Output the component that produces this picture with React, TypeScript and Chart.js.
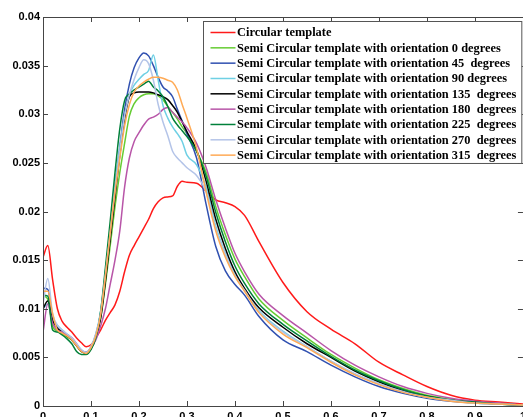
import React, { useEffect, useRef } from 'react';
import { Chart, registerables } from 'chart.js';

Chart.register(...registerables);

const xs = [0, 0.01, 0.02, 0.03, 0.04, 0.05, 0.06, 0.07, 0.08, 0.09, 0.1, 0.11, 0.12, 0.13, 0.14, 0.15, 0.16, 0.17, 0.18, 0.19, 0.2, 0.21, 0.22, 0.23, 0.24, 0.25, 0.26, 0.27, 0.28, 0.29, 0.3, 0.32, 0.34, 0.36, 0.38, 0.4, 0.42, 0.45, 0.5, 0.55, 0.6, 0.65, 0.7, 0.75, 0.8, 0.85, 0.9, 0.95, 1.0];

const circular = [0.0153, 0.0165, 0.0130, 0.0100, 0.0087, 0.0081, 0.0076, 0.0070, 0.0065, 0.0061, 0.0063, 0.0070, 0.0078, 0.0088, 0.0096, 0.0104, 0.0118, 0.0138, 0.0155, 0.0165, 0.0174, 0.0183, 0.0192, 0.0203, 0.0210, 0.0214, 0.0215, 0.0216, 0.0226, 0.0231, 0.0230, 0.0229, 0.0221, 0.0212, 0.0209, 0.0205, 0.0196, 0.0169, 0.0127, 0.0097, 0.0079, 0.0064, 0.0045, 0.0032, 0.0020, 0.0011, 0.0006, 0.0004, 0.0002];
const semi0 = [0.0113, 0.0110, 0.0082, 0.0077, 0.0074, 0.0071, 0.0068, 0.0062, 0.0056, 0.0055, 0.0060, 0.0071, 0.0090, 0.0125, 0.0165, 0.0205, 0.0240, 0.0270, 0.0298, 0.0311, 0.0317, 0.0320, 0.0321, 0.0321, 0.0319, 0.0315, 0.0308, 0.0302, 0.0295, 0.0287, 0.0280, 0.0262, 0.0240, 0.0205, 0.0176, 0.0151, 0.0133, 0.0110, 0.0088, 0.0070, 0.0053, 0.0039, 0.0027, 0.0018, 0.0011, 0.0007, 0.0004, 0.0002, 0.0001];
const semi45 = [0.0121, 0.0120, 0.0090, 0.0082, 0.0077, 0.0073, 0.0069, 0.0063, 0.0057, 0.0055, 0.0060, 0.0073, 0.0095, 0.0135, 0.0180, 0.0225, 0.0266, 0.0305, 0.0331, 0.0348, 0.0358, 0.0363, 0.0360, 0.0350, 0.0338, 0.0328, 0.0324, 0.0318, 0.0305, 0.0293, 0.0280, 0.0255, 0.0207, 0.0164, 0.0139, 0.0125, 0.0114, 0.0092, 0.0068, 0.0056, 0.0042, 0.0030, 0.0020, 0.0013, 0.0008, 0.0005, 0.0003, 0.0002, 0.0001];
const semi90 = [0.0100, 0.0105, 0.0090, 0.0083, 0.0078, 0.0074, 0.0070, 0.0063, 0.0057, 0.0055, 0.0061, 0.0074, 0.0097, 0.0138, 0.0180, 0.0225, 0.0265, 0.0298, 0.0320, 0.0330, 0.0336, 0.0341, 0.0345, 0.0361, 0.0335, 0.0309, 0.0296, 0.0287, 0.0280, 0.0272, 0.0258, 0.0248, 0.0225, 0.0185, 0.0157, 0.0135, 0.0119, 0.0098, 0.0077, 0.0061, 0.0046, 0.0033, 0.0023, 0.0015, 0.0009, 0.0006, 0.0003, 0.0002, 0.0001];
const semi135 = [0.0100, 0.0108, 0.0088, 0.0080, 0.0076, 0.0072, 0.0068, 0.0062, 0.0056, 0.0054, 0.0059, 0.0070, 0.0090, 0.0128, 0.0172, 0.0215, 0.0258, 0.0295, 0.0318, 0.0322, 0.0323, 0.0323, 0.0323, 0.0322, 0.0320, 0.0318, 0.0315, 0.0309, 0.0302, 0.0292, 0.0282, 0.0263, 0.0231, 0.0192, 0.0162, 0.0138, 0.0121, 0.0101, 0.0081, 0.0064, 0.0050, 0.0036, 0.0025, 0.0016, 0.0010, 0.0006, 0.0004, 0.0002, 0.0001];
const semi180 = [0.0076, 0.0105, 0.0085, 0.0078, 0.0076, 0.0073, 0.0070, 0.0064, 0.0057, 0.0055, 0.0060, 0.0068, 0.0082, 0.0100, 0.0125, 0.0150, 0.0180, 0.0225, 0.0255, 0.0272, 0.0281, 0.0289, 0.0295, 0.0297, 0.0300, 0.0305, 0.0307, 0.0302, 0.0297, 0.0292, 0.0286, 0.0270, 0.0245, 0.0212, 0.0183, 0.0157, 0.0138, 0.0115, 0.0093, 0.0075, 0.0057, 0.0042, 0.0030, 0.0020, 0.0013, 0.0008, 0.0005, 0.0003, 0.0001];
const semi225 = [0.0114, 0.0113, 0.0078, 0.0076, 0.0073, 0.0069, 0.0064, 0.0056, 0.0053, 0.0053, 0.0058, 0.0070, 0.0097, 0.0142, 0.0190, 0.0240, 0.0285, 0.0314, 0.0321, 0.0325, 0.0328, 0.0331, 0.0334, 0.0328, 0.0324, 0.0318, 0.0308, 0.0296, 0.0289, 0.0283, 0.0277, 0.0262, 0.0236, 0.0199, 0.0169, 0.0144, 0.0126, 0.0105, 0.0084, 0.0067, 0.0051, 0.0037, 0.0026, 0.0017, 0.0010, 0.0006, 0.0004, 0.0002, 0.0001];
const semi270 = [0.0105, 0.0131, 0.0095, 0.0083, 0.0078, 0.0074, 0.0070, 0.0064, 0.0058, 0.0055, 0.0061, 0.0074, 0.0095, 0.0135, 0.0178, 0.0222, 0.0262, 0.0298, 0.0320, 0.0336, 0.0348, 0.0356, 0.0352, 0.0335, 0.0310, 0.0292, 0.0278, 0.0262, 0.0255, 0.0250, 0.0245, 0.0237, 0.0220, 0.0182, 0.0156, 0.0134, 0.0119, 0.0097, 0.0076, 0.0061, 0.0046, 0.0033, 0.0023, 0.0015, 0.0009, 0.0006, 0.0003, 0.0002, 0.0001];
const semi315 = [0.0118, 0.0118, 0.0095, 0.0078, 0.0075, 0.0072, 0.0068, 0.0062, 0.0056, 0.0054, 0.0060, 0.0072, 0.0094, 0.0133, 0.0178, 0.0220, 0.0255, 0.0288, 0.0310, 0.0323, 0.0329, 0.0333, 0.0336, 0.0338, 0.0338, 0.0337, 0.0335, 0.0333, 0.0325, 0.0310, 0.0296, 0.0265, 0.0220, 0.0180, 0.0153, 0.0133, 0.0118, 0.0096, 0.0074, 0.0060, 0.0045, 0.0032, 0.0022, 0.0014, 0.0009, 0.0005, 0.0003, 0.0002, 0.0001];

const seriesLabels = [
  'Circular template',
  'Semi Circular template with orientation 0 degrees',
  'Semi Circular template with orientation 45  degrees',
  'Semi Circular template with orientation 90 degrees',
  'Semi Circular template with orientation 135  degrees',
  'Semi Circular template with orientation 180  degrees',
  'Semi Circular template with orientation 225  degrees',
  'Semi Circular template with orientation 270  degrees',
  'Semi Circular template with orientation 315  degrees',
];
const seriesValues = [circular, semi0, semi45, semi90, semi135, semi180, semi225, semi270, semi315];
const seriesColors = ['#ff1a1a', '#66cc33', '#3050b0', '#6fd0e4', '#000000', '#b855a8', '#00803a', '#b4c4e8', '#ffaa55'];

const xTickStep = 0.1;
const yTickStep = 0.005;
const xMin = 0, xMax = 1;
const yMin = 0, yMax = 0.04;

const fmt = (v: number) => String(Number(Number(v).toFixed(4)));

const framePlugin = {
  id: 'frameTicks',
  afterDatasetsDraw(chart: any) {
    const { ctx, chartArea: ca, scales } = chart;
    const L = 5;
    ctx.save();
    ctx.strokeStyle = '#454545';
    ctx.lineWidth = 1;
    ctx.beginPath();
    ctx.rect(Math.round(ca.left) + 0.5, Math.round(ca.top) + 0.5, Math.round(ca.right - ca.left), Math.round(ca.bottom - ca.top));
    scales.x.ticks.forEach((t: any) => {
      const px = Math.round(scales.x.getPixelForValue(t.value)) + 0.5;
      ctx.moveTo(px, ca.bottom);
      ctx.lineTo(px, ca.bottom - L);
      ctx.moveTo(px, ca.top);
      ctx.lineTo(px, ca.top + L);
    });
    scales.y.ticks.forEach((t: any) => {
      const py = Math.round(scales.y.getPixelForValue(t.value)) + 0.5;
      ctx.moveTo(ca.left, py);
      ctx.lineTo(ca.left + L, py);
      ctx.moveTo(ca.right, py);
      ctx.lineTo(ca.right - L, py);
    });
    ctx.stroke();
    ctx.restore();
  },
};

const legendPlugin = {
  id: 'boxLegend',
  afterDraw(chart: any) {
    const { ctx, chartArea: ca } = chart;
    const ds = chart.data.datasets;
    ctx.save();
    ctx.font = 'bold 12.4px "Liberation Serif", "Times New Roman", serif';
    let maxW = 0;
    ds.forEach((d: any) => { maxW = Math.max(maxW, ctx.measureText(d.label).width); });
    const left = Math.round(ca.left + 160) + 0.5;
    const top = Math.round(ca.top + 4) + 0.5;
    const rowH = 15.33;
    const w = 34 + maxW + 5;
    const h = ds.length * rowH + 4;
    ctx.fillStyle = '#ffffff';
    ctx.fillRect(left, top, w, h);
    ctx.strokeStyle = '#555555';
    ctx.lineWidth = 1;
    ctx.strokeRect(left, top, w, h);
    ds.forEach((d: any, i: number) => {
      const y = top + 11 + i * rowH;
      ctx.strokeStyle = d.borderColor;
      ctx.lineWidth = 1.5;
      ctx.beginPath();
      ctx.moveTo(left + 7, y);
      ctx.lineTo(left + 32, y);
      ctx.stroke();
      ctx.fillStyle = '#000';
      ctx.textBaseline = 'middle';
      ctx.textAlign = 'left';
      ctx.fillText(d.label, left + 33.5, y + 0.5);
    });
    ctx.restore();
  },
};

export default function App() {
  const ref = useRef<HTMLCanvasElement | null>(null);
  useEffect(() => {
    document.documentElement.style.overflow = 'hidden';
    document.body.style.overflow = 'hidden';
    document.body.style.margin = '0';
    const canvas = ref.current;
    if (!canvas) return;
    const chart = new Chart(canvas, {
      type: 'line',
      data: {
        datasets: seriesValues.map((vals, i) => ({
          label: seriesLabels[i],
          data: xs.map((x, j) => ({ x, y: vals[j] })),
          borderColor: seriesColors[i],
          backgroundColor: seriesColors[i],
          borderWidth: 1.5,
          pointRadius: 0,
          fill: false,
          cubicInterpolationMode: 'monotone' as const,
          order: seriesValues.length - i,
        })),
      },
      options: {
        responsive: false,
        animation: false,
        devicePixelRatio: 1,
        layout: { padding: { left: 0, top: 17, right: 7, bottom: 4 } },
        plugins: { legend: { display: false }, tooltip: { enabled: false } },
        scales: {
          x: {
            type: 'linear',
            min: xMin,
            max: xMax,
            afterFit: (s: any) => { s.height = 20; },
            grid: { display: false, drawTicks: false },
            border: { display: false },
            ticks: {
              stepSize: xTickStep,
              padding: 4,
              color: '#000',
              font: { family: '"Liberation Sans", Arial, sans-serif', size: 11, weight: 'bold' },
              callback: (v: any) => fmt(v),
              maxRotation: 0,
              autoSkip: false,
            },
          },
          y: {
            type: 'linear',
            min: yMin,
            max: yMax,
            afterFit: (s: any) => { s.width = 43; },
            grid: { display: false, drawTicks: false },
            border: { display: false },
            ticks: {
              stepSize: yTickStep,
              padding: 3,
              color: '#000',
              font: { family: '"Liberation Sans", Arial, sans-serif', size: 11, weight: 'bold' },
              callback: (v: any) => fmt(v),
              autoSkip: false,
            },
          },
        },
      },
      plugins: [framePlugin, legendPlugin],
    });
    return () => chart.destroy();
  }, []);
  return (
    <div style={{ position: 'absolute', left: 0, top: 0, width: 530, height: 430, background: '#fff' }}>
      <canvas ref={ref} width={530} height={430} style={{ display: 'block' }} />
    </div>
  );
}
